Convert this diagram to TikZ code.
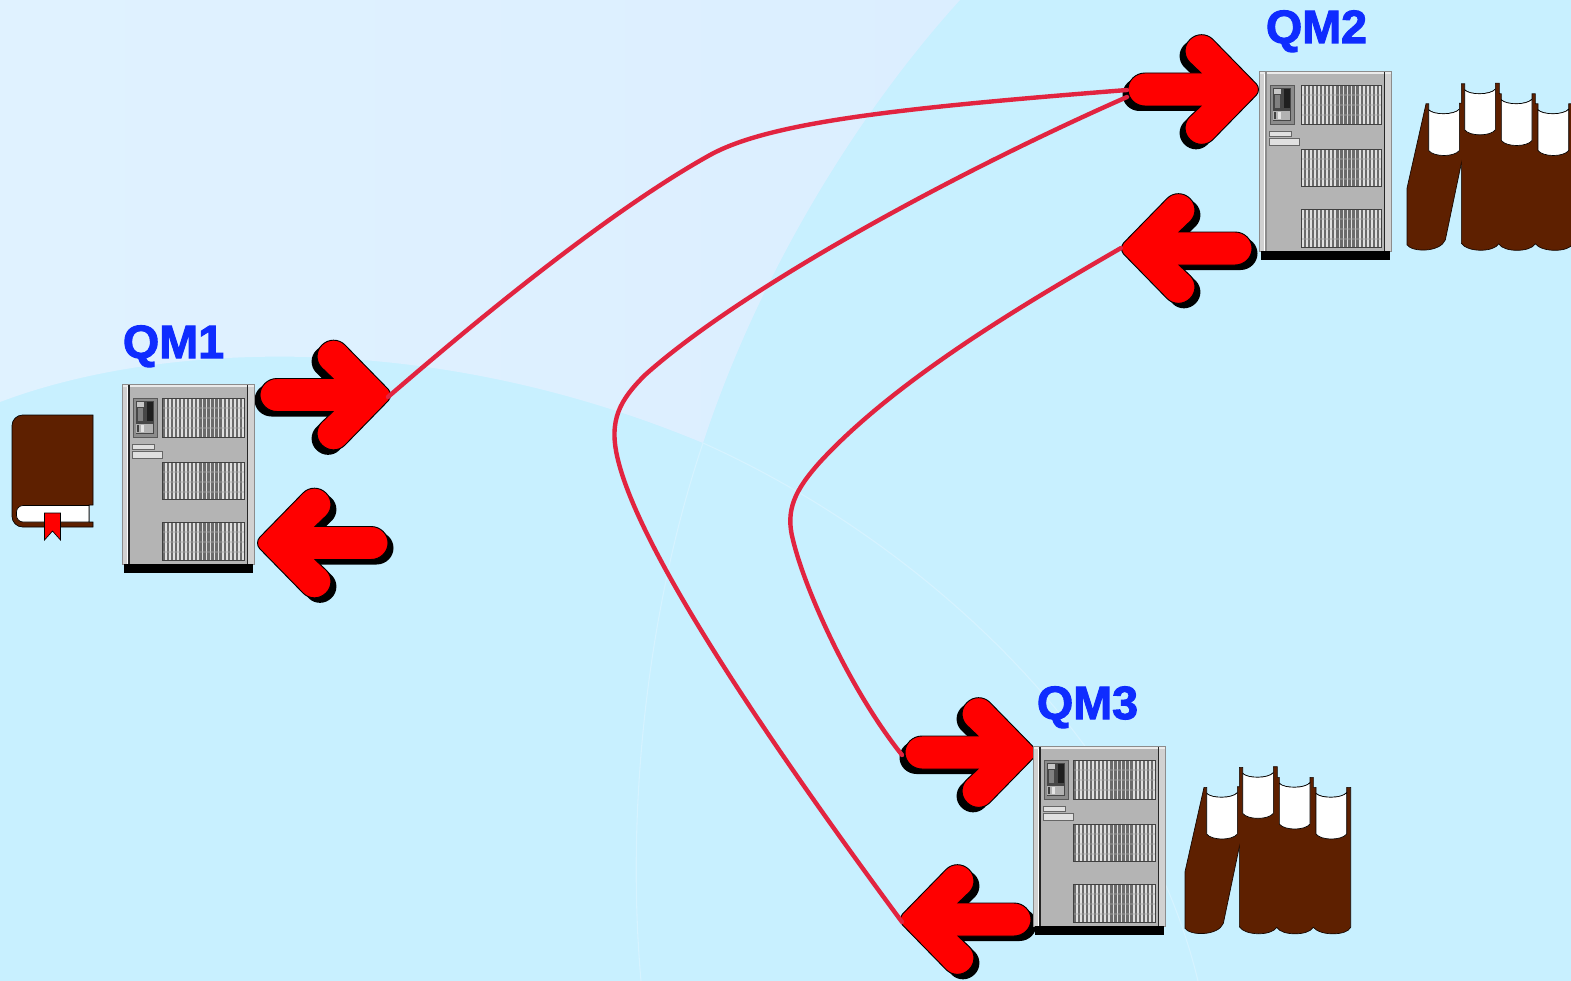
\documentclass[tikz,border=0pt]{standalone}
\usepackage{fontspec}
\setmainfont{Liberation Sans}
\newfontfamily\qmfont[FakeBold=2.2]{Liberation Sans Bold}
\definecolor{bgbase}{HTML}{C8F0FF}
\definecolor{bgleft}{HTML}{E0F2FF}
\definecolor{bgright}{HTML}{DBEEFF}
\definecolor{bgline}{HTML}{D6F3FF}
\definecolor{linkred}{HTML}{E22440}
\definecolor{qmblue}{HTML}{0F2CFF}
\definecolor{bookbrown}{HTML}{5E2000}
\definecolor{casegray}{HTML}{B4B4B4}
\tikzset{
  qmlabel/.style={font=\qmfont\fontsize{35pt}{35pt}\selectfont,text=qmblue,anchor=base,inner sep=0pt},
  link/.style={draw=linkred,line width=3.3pt,line cap=round},
  ventstripe/.style={fill=black!58,draw=none},
}
% arrow outline, tip at the local origin
\newcommand{\arrowshape}{
  (-57,-16.5) -- (-68.5,-27.5)
  .. controls (-74.6,-33.9) and (-74.3,-44) .. (-68,-50)
  .. controls (-61.6,-56.4) and (-51.4,-56.4) .. (-45.2,-50.2)
  -- (-1.7,-5.7) .. controls (1.2,-2.6) and (1.2,2.6) .. (-1.7,5.7)
  -- (-45.2,50.2)
  .. controls (-51.4,56.4) and (-61.6,56.4) .. (-68,50)
  .. controls (-74.3,44) and (-74.6,33.9) .. (-68.5,27.5)
  -- (-57,16.5) -- (-113,16.5)
  .. controls (-122.5,16.5) and (-130,9) .. (-130,0)
  .. controls (-130,-9) and (-122.5,-16.5) .. (-113,-16.5)
  -- cycle}
\newcommand{\qarrow}[3]{% tipx tipy dir
  \begin{scope}[shift={(#1,#2)},xscale=#3]
    \fill[black,shift={(-5.5,5)}] \arrowshape;
    \filldraw[fill=red,draw=black,line width=0.7pt] \arrowshape;
  \end{scope}}
\newcommand{\qvent}[3]{% y0 y1 left edge shift
  \fill[white!88!black] ({162+#3},#1) rectangle (244,#2);
  \begin{scope}
    \clip ({162+#3},#1) rectangle (244,#2);
    \foreach \i in {0,...,19} {
      \fill[ventstripe] ({162.5+\i*4.07},#1) rectangle ({164.9+\i*4.07},#2);
    }
    \fill[black!35,opacity=.4] (162,{#1+9}) rectangle (244,{#1+11});
    \fill[black!35,opacity=.4] (162,{#1+19}) rectangle (244,{#1+21});
    \fill[black!35,opacity=.4] (162,{#1+29}) rectangle (244,{#1+31});
  \end{scope}
  \draw[black!75,line width=0.6pt] ({162+#3},#1) rectangle (244,#2);
}
\newcommand{\qserver}[4]{% dx dy colour of left line, vent shift
  \begin{scope}[shift={(#1,#2)}]
    \fill[casegray] (122,384) rectangle (254,564);
    \fill[black!18] (122,384) rectangle (128,564);
    \fill[black!18] (248,384) rectangle (254,564);
    \draw[black!8,line width=1pt] (122,386) -- (254,386);
    \draw[black!45,line width=0.5pt] (122,384) rectangle (254,564);
    \draw[#3,line width=0.8pt] (129,385) -- (129,564);
    \draw[white,line width=0.6pt] (127.8,387) -- (127.8,564);
    \draw[black!85,line width=0.9pt] (247.5,385) -- (247.5,564);
    \fill[black] (124,564) rectangle (253,573);
    % control panel
    \filldraw[fill=black!45,draw=black!65,line width=0.6pt] (133,398) rectangle (157,437);
    \fill[black!72] (136,401) rectangle (154,434);
    \fill[black!22] (137,402) rectangle (144,407);
    \fill[black!50] (138,408) rectangle (143,421);
    \fill[black!88] (147,402) rectangle (153,421);
    \fill[black!30] (136,424) rectangle (153,433);
    \fill[black!75] (137,425) rectangle (139,432);
    \fill[black!10] (141,425) rectangle (144,432);
    % slots
    \filldraw[fill=black!12,draw=black!60,line width=0.5pt] (132,444) rectangle (154,449);
    \filldraw[fill=black!12,draw=black!60,line width=0.5pt] (132,451) rectangle (162,458);
    \qvent{398}{437}{#4}
    \qvent{462}{499}{#4}
    \qvent{522}{560}{#4}
  \end{scope}}
\newcommand{\pagecurve}[2]{(#1,#2) .. controls ({#1+15},{#2+16}) and ({#1+77},{#2+16}) .. ({#1+92},{#2-2})}
\newcommand{\bookpage}[3]{% x0 ytop yside
  \filldraw[fill=white,draw=black,line width=0.5pt] \pagecurve{#1}{#2} -- ({#1+92},#3)
    .. controls ({#1+77},{#3+20}) and ({#1+15},{#3+20}) .. (#1,#3) -- cycle;}
\newcommand{\qbooks}[2]{%
  \begin{scope}[shift={(#1,#2)},x=0.25pt,y=-0.25pt]
    \filldraw[fill=bookbrown,draw=black!80!bookbrown,line width=0.5pt]
      (915,575) -- (972,322) -- (980,322) -- \pagecurve{980}{340} -- (1072,320) -- (1078,320)
      -- (1078,262) -- (1088,262) -- \pagecurve{1088}{280} -- (1180,260) -- (1192,260) -- (1192,292) -- (1198,292)
      -- \pagecurve{1198}{310} -- (1290,292) -- (1300,292) -- (1300,322) -- (1308,322)
      -- \pagecurve{1308}{340} -- (1400,322) -- (1412,322)
      -- (1412,742) .. controls (1400,768) and (1320,768) .. (1300,742)
      .. controls (1285,768) and (1205,768) .. (1190,742)
      .. controls (1175,768) and (1095,768) .. (1078,740) -- (1078,500) -- (1030,730)
      .. controls (1015,768) and (930,768) .. (915,745) -- cycle;
    \bookpage{980}{340}{462}
    \bookpage{1088}{280}{400}
    \bookpage{1198}{310}{432}
    \bookpage{1308}{340}{462}
  \end{scope}}
\begin{document}
\begin{tikzpicture}[x=0.75pt,y=-0.75pt]
\useasboundingbox (0,0) rectangle (1571,981);
\clip (0,0) rectangle (1571,981);
% backdrop
\fill[bgbase] (0,0) rectangle (1571,981);
\begin{scope}
  \clip (0,402) .. controls (150,345) and (420,325) .. (703,443)
     .. controls (760,270) and (860,110) .. (960,0) -- (0,0) -- cycle;
  \shade[left color=bgleft,right color=bgright] (0,0) rectangle (1000,460);
\end{scope}
\draw[bgline,line width=0.8pt] (703,443) .. controls (920,540) and (1140,740) .. (1198,981);
\draw[bgline,line width=0.8pt] (703,443) .. controls (650,600) and (625,800) .. (641,981);
% arrows
\coordinate (a1) at (388,397);
\coordinate (a2a) at (1127,90);
\coordinate (a2b) at (1127,97);
\coordinate (a3) at (1121,248);
\coordinate (a4) at (902,755);
\coordinate (a5) at (902,922);
\qarrow{390}{395}{1}
\qarrow{258}{543}{-1}
\qarrow{1258}{89.5}{1}
\qarrow{1122}{248.5}{-1}
\qarrow{1035}{752.5}{1}
\qarrow{901}{919.5}{-1}
% servers
\qserver{0}{0}{black!85}{0}
\qserver{1137}{-313}{black!45}{2}
\qserver{911}{362}{black!85}{0}
% single book
\filldraw[fill=bookbrown,draw=black,line width=0.5pt,rounded corners=8pt] (93,415) [sharp corners] -- (26,415) [rounded corners=8pt] -- (12,415) -- (12,527) [sharp corners] -- (93,527) -- (93,522) -- (89,522) -- (89,505) -- (93,505) -- cycle;
\filldraw[fill=white,draw=black,line width=0.5pt,rounded corners=5pt] (89,505.5) [rounded corners=5pt] -- (16.5,505.5) -- (16.5,522) [sharp corners] -- (89,522) -- cycle;
\filldraw[fill=red,draw=black,line width=0.5pt] (44.5,513) -- (60.5,513) -- (60.5,540) -- (52.5,531) -- (44.5,540) -- cycle;
% book stacks
\qbooks{880}{680}
\qbooks{1102}{-3.5}
% labels
\node[qmlabel] (qm1) at (173.5,358) {QM1};
\node[qmlabel] (qm2) at (1316.5,43) {QM2};
\node[qmlabel] (qm3) at (1087.5,719) {QM3};
% links
\draw[link] (a1) .. controls (500,300) and (620,205) .. (710,155) .. controls (770,122) and (900,108) .. (a2a);
\draw[link] (a2b) .. controls (950,175) and (740,290) .. (645,375) .. controls (620,400) and (608,420) .. (618,460) .. controls (640,550) and (760,730) .. (a5);
\draw[link] (a3) .. controls (1040,295) and (900,375) .. (820,462) .. controls (795,490) and (785,510) .. (793,540) .. controls (805,590) and (850,690) .. (a4);
\end{tikzpicture}
\end{document}
